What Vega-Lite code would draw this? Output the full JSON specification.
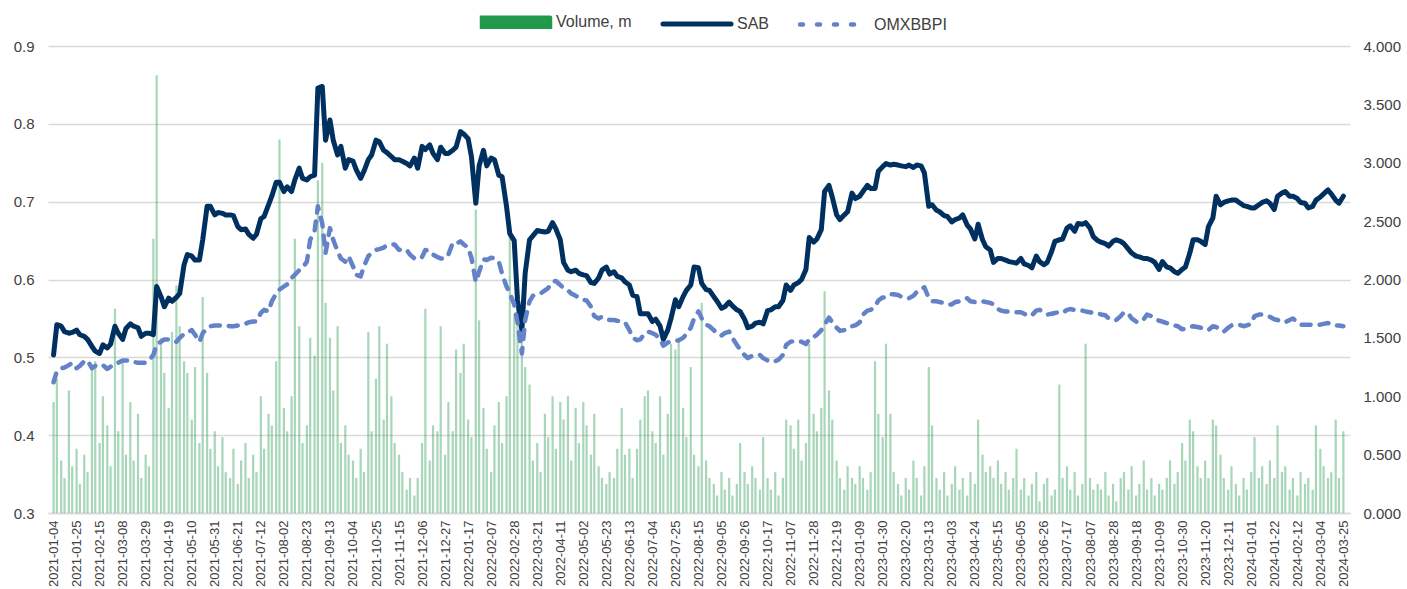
{
"$schema":"https://vega.github.io/schema/vega-lite/v6.json",
"width":1302,"height":467,
"autosize":{"type":"none"},
"padding":{"left":48,"top":46,"right":57,"bottom":76},
"background":"white",
"config":{"font":"Liberation Sans","view":{"stroke":null},"axis":{"labelFont":"Liberation Sans","labelColor":"#404040","labelFontSize":15,"title":null}},
"data":{"values":[
{"date":"2021-01-04","SAB":0.503,"OMXBBPI":0.468,"Volume":0.95},
{"date":"2021-01-07","SAB":0.542,"OMXBBPI":0.482,"Volume":1.15},
{"date":"2021-01-11","SAB":0.540,"OMXBBPI":0.486,"Volume":0.45},
{"date":"2021-01-14","SAB":0.533,"OMXBBPI":0.487,"Volume":0.30},
{"date":"2021-01-18","SAB":0.531,"OMXBBPI":0.490,"Volume":1.05},
{"date":"2021-01-21","SAB":0.532,"OMXBBPI":0.493,"Volume":0.40},
{"date":"2021-01-25","SAB":0.535,"OMXBBPI":0.486,"Volume":0.55},
{"date":"2021-01-28","SAB":0.529,"OMXBBPI":0.489,"Volume":0.25},
{"date":"2021-02-01","SAB":0.527,"OMXBBPI":0.495,"Volume":0.50},
{"date":"2021-02-04","SAB":0.523,"OMXBBPI":0.496,"Volume":0.35},
{"date":"2021-02-08","SAB":0.514,"OMXBBPI":0.486,"Volume":1.25},
{"date":"2021-02-11","SAB":0.508,"OMXBBPI":0.489,"Volume":1.30},
{"date":"2021-02-15","SAB":0.505,"OMXBBPI":0.491,"Volume":0.60},
{"date":"2021-02-18","SAB":0.516,"OMXBBPI":0.490,"Volume":1.00},
{"date":"2021-02-22","SAB":0.512,"OMXBBPI":0.485,"Volume":0.75},
{"date":"2021-02-25","SAB":0.517,"OMXBBPI":0.488,"Volume":0.40},
{"date":"2021-03-01","SAB":0.540,"OMXBBPI":0.492,"Volume":1.75},
{"date":"2021-03-04","SAB":0.531,"OMXBBPI":0.493,"Volume":0.70},
{"date":"2021-03-08","SAB":0.523,"OMXBBPI":0.496,"Volume":1.30},
{"date":"2021-03-11","SAB":0.537,"OMXBBPI":0.496,"Volume":0.50},
{"date":"2021-03-15","SAB":0.543,"OMXBBPI":0.496,"Volume":0.95},
{"date":"2021-03-18","SAB":0.540,"OMXBBPI":0.494,"Volume":0.45},
{"date":"2021-03-22","SAB":0.538,"OMXBBPI":0.493,"Volume":0.85},
{"date":"2021-03-25","SAB":0.527,"OMXBBPI":0.493,"Volume":0.30},
{"date":"2021-03-29","SAB":0.531,"OMXBBPI":0.493,"Volume":0.50},
{"date":"2021-04-01","SAB":0.531,"OMXBBPI":0.496,"Volume":0.40},
{"date":"2021-04-05","SAB":0.529,"OMXBBPI":0.503,"Volume":2.35},
{"date":"2021-04-08","SAB":0.591,"OMXBBPI":0.517,"Volume":3.75},
{"date":"2021-04-12","SAB":0.578,"OMXBBPI":0.520,"Volume":1.50},
{"date":"2021-04-15","SAB":0.565,"OMXBBPI":0.523,"Volume":1.20},
{"date":"2021-04-19","SAB":0.576,"OMXBBPI":0.523,"Volume":0.90},
{"date":"2021-04-22","SAB":0.572,"OMXBBPI":0.523,"Volume":1.55},
{"date":"2021-04-26","SAB":0.577,"OMXBBPI":0.520,"Volume":1.95},
{"date":"2021-04-29","SAB":0.582,"OMXBBPI":0.525,"Volume":1.60},
{"date":"2021-05-03","SAB":0.619,"OMXBBPI":0.530,"Volume":1.30},
{"date":"2021-05-06","SAB":0.632,"OMXBBPI":0.532,"Volume":1.20},
{"date":"2021-05-10","SAB":0.630,"OMXBBPI":0.535,"Volume":0.80},
{"date":"2021-05-13","SAB":0.625,"OMXBBPI":0.529,"Volume":1.25},
{"date":"2021-05-17","SAB":0.625,"OMXBBPI":0.520,"Volume":0.60},
{"date":"2021-05-20","SAB":0.651,"OMXBBPI":0.531,"Volume":1.85},
{"date":"2021-05-24","SAB":0.694,"OMXBBPI":0.538,"Volume":1.20},
{"date":"2021-05-27","SAB":0.694,"OMXBBPI":0.540,"Volume":0.55},
{"date":"2021-05-31","SAB":0.683,"OMXBBPI":0.541,"Volume":0.70},
{"date":"2021-06-03","SAB":0.686,"OMXBBPI":0.541,"Volume":0.40},
{"date":"2021-06-07","SAB":0.685,"OMXBBPI":0.541,"Volume":0.65},
{"date":"2021-06-10","SAB":0.683,"OMXBBPI":0.541,"Volume":0.35},
{"date":"2021-06-14","SAB":0.683,"OMXBBPI":0.540,"Volume":0.30},
{"date":"2021-06-17","SAB":0.682,"OMXBBPI":0.540,"Volume":0.55},
{"date":"2021-06-21","SAB":0.668,"OMXBBPI":0.541,"Volume":0.25},
{"date":"2021-06-24","SAB":0.664,"OMXBBPI":0.542,"Volume":0.45},
{"date":"2021-06-28","SAB":0.665,"OMXBBPI":0.543,"Volume":0.60},
{"date":"2021-07-01","SAB":0.658,"OMXBBPI":0.545,"Volume":0.30},
{"date":"2021-07-05","SAB":0.653,"OMXBBPI":0.546,"Volume":0.50},
{"date":"2021-07-08","SAB":0.658,"OMXBBPI":0.546,"Volume":0.35},
{"date":"2021-07-12","SAB":0.678,"OMXBBPI":0.557,"Volume":1.00},
{"date":"2021-07-15","SAB":0.681,"OMXBBPI":0.561,"Volume":0.55},
{"date":"2021-07-19","SAB":0.696,"OMXBBPI":0.559,"Volume":0.85},
{"date":"2021-07-22","SAB":0.707,"OMXBBPI":0.572,"Volume":0.75},
{"date":"2021-07-26","SAB":0.725,"OMXBBPI":0.582,"Volume":1.30},
{"date":"2021-07-29","SAB":0.725,"OMXBBPI":0.587,"Volume":3.20},
{"date":"2021-08-02","SAB":0.713,"OMXBBPI":0.591,"Volume":0.90},
{"date":"2021-08-05","SAB":0.719,"OMXBBPI":0.594,"Volume":0.70},
{"date":"2021-08-09","SAB":0.713,"OMXBBPI":0.602,"Volume":1.00},
{"date":"2021-08-12","SAB":0.728,"OMXBBPI":0.606,"Volume":2.35},
{"date":"2021-08-16","SAB":0.743,"OMXBBPI":0.612,"Volume":1.60},
{"date":"2021-08-19","SAB":0.730,"OMXBBPI":0.615,"Volume":0.60},
{"date":"2021-08-23","SAB":0.728,"OMXBBPI":0.623,"Volume":0.75},
{"date":"2021-08-26","SAB":0.732,"OMXBBPI":0.651,"Volume":1.50},
{"date":"2021-08-30","SAB":0.734,"OMXBBPI":0.662,"Volume":1.35},
{"date":"2021-09-02","SAB":0.846,"OMXBBPI":0.694,"Volume":2.85},
{"date":"2021-09-06","SAB":0.848,"OMXBBPI":0.672,"Volume":3.00},
{"date":"2021-09-09","SAB":0.779,"OMXBBPI":0.634,"Volume":1.80},
{"date":"2021-09-13","SAB":0.805,"OMXBBPI":0.666,"Volume":1.50},
{"date":"2021-09-16","SAB":0.779,"OMXBBPI":0.651,"Volume":1.05},
{"date":"2021-09-20","SAB":0.760,"OMXBBPI":0.636,"Volume":1.60},
{"date":"2021-09-23","SAB":0.771,"OMXBBPI":0.627,"Volume":0.60},
{"date":"2021-09-27","SAB":0.743,"OMXBBPI":0.623,"Volume":0.75},
{"date":"2021-09-30","SAB":0.754,"OMXBBPI":0.630,"Volume":0.50},
{"date":"2021-10-04","SAB":0.752,"OMXBBPI":0.617,"Volume":0.45},
{"date":"2021-10-07","SAB":0.741,"OMXBBPI":0.606,"Volume":0.30},
{"date":"2021-10-11","SAB":0.730,"OMXBBPI":0.604,"Volume":0.55},
{"date":"2021-10-14","SAB":0.739,"OMXBBPI":0.617,"Volume":0.35},
{"date":"2021-10-18","SAB":0.754,"OMXBBPI":0.630,"Volume":1.55},
{"date":"2021-10-21","SAB":0.760,"OMXBBPI":0.634,"Volume":0.70},
{"date":"2021-10-25","SAB":0.779,"OMXBBPI":0.638,"Volume":1.15},
{"date":"2021-10-28","SAB":0.777,"OMXBBPI":0.639,"Volume":1.60},
{"date":"2021-11-01","SAB":0.766,"OMXBBPI":0.641,"Volume":0.80},
{"date":"2021-11-04","SAB":0.763,"OMXBBPI":0.644,"Volume":1.45},
{"date":"2021-11-08","SAB":0.758,"OMXBBPI":0.645,"Volume":1.00},
{"date":"2021-11-11","SAB":0.754,"OMXBBPI":0.645,"Volume":0.60},
{"date":"2021-11-15","SAB":0.754,"OMXBBPI":0.638,"Volume":0.50},
{"date":"2021-11-18","SAB":0.752,"OMXBBPI":0.639,"Volume":0.35},
{"date":"2021-11-22","SAB":0.749,"OMXBBPI":0.638,"Volume":0.20},
{"date":"2021-11-25","SAB":0.746,"OMXBBPI":0.632,"Volume":0.30},
{"date":"2021-11-29","SAB":0.756,"OMXBBPI":0.627,"Volume":0.15},
{"date":"2021-12-02","SAB":0.743,"OMXBBPI":0.626,"Volume":0.30},
{"date":"2021-12-06","SAB":0.771,"OMXBBPI":0.629,"Volume":0.60},
{"date":"2021-12-09","SAB":0.767,"OMXBBPI":0.638,"Volume":1.75},
{"date":"2021-12-13","SAB":0.773,"OMXBBPI":0.637,"Volume":0.45},
{"date":"2021-12-16","SAB":0.762,"OMXBBPI":0.632,"Volume":0.75},
{"date":"2021-12-20","SAB":0.754,"OMXBBPI":0.629,"Volume":0.70},
{"date":"2021-12-23","SAB":0.770,"OMXBBPI":0.627,"Volume":1.60},
{"date":"2021-12-27","SAB":0.762,"OMXBBPI":0.627,"Volume":0.50},
{"date":"2021-12-30","SAB":0.762,"OMXBBPI":0.632,"Volume":0.95},
{"date":"2022-01-03","SAB":0.766,"OMXBBPI":0.647,"Volume":0.70},
{"date":"2022-01-06","SAB":0.770,"OMXBBPI":0.646,"Volume":1.40},
{"date":"2022-01-10","SAB":0.790,"OMXBBPI":0.649,"Volume":1.20},
{"date":"2022-01-13","SAB":0.787,"OMXBBPI":0.645,"Volume":1.45},
{"date":"2022-01-17","SAB":0.781,"OMXBBPI":0.641,"Volume":0.80},
{"date":"2022-01-20","SAB":0.758,"OMXBBPI":0.628,"Volume":0.65},
{"date":"2022-01-24","SAB":0.698,"OMXBBPI":0.597,"Volume":2.60},
{"date":"2022-01-27","SAB":0.746,"OMXBBPI":0.610,"Volume":1.65},
{"date":"2022-01-31","SAB":0.766,"OMXBBPI":0.626,"Volume":0.90},
{"date":"2022-02-03","SAB":0.746,"OMXBBPI":0.625,"Volume":0.55},
{"date":"2022-02-07","SAB":0.756,"OMXBBPI":0.628,"Volume":0.35},
{"date":"2022-02-10","SAB":0.754,"OMXBBPI":0.627,"Volume":0.75},
{"date":"2022-02-14","SAB":0.734,"OMXBBPI":0.623,"Volume":0.95},
{"date":"2022-02-17","SAB":0.732,"OMXBBPI":0.607,"Volume":0.60},
{"date":"2022-02-21","SAB":0.694,"OMXBBPI":0.591,"Volume":1.00},
{"date":"2022-02-24","SAB":0.659,"OMXBBPI":0.582,"Volume":2.45},
{"date":"2022-02-28","SAB":0.650,"OMXBBPI":0.568,"Volume":1.70},
{"date":"2022-03-03","SAB":0.574,"OMXBBPI":0.545,"Volume":1.80},
{"date":"2022-03-07","SAB":0.535,"OMXBBPI":0.505,"Volume":1.50},
{"date":"2022-03-10","SAB":0.608,"OMXBBPI":0.548,"Volume":1.25},
{"date":"2022-03-14","SAB":0.651,"OMXBBPI":0.572,"Volume":1.10},
{"date":"2022-03-17","SAB":0.656,"OMXBBPI":0.579,"Volume":0.45},
{"date":"2022-03-21","SAB":0.663,"OMXBBPI":0.581,"Volume":0.60},
{"date":"2022-03-24","SAB":0.662,"OMXBBPI":0.582,"Volume":0.35},
{"date":"2022-03-28","SAB":0.661,"OMXBBPI":0.586,"Volume":0.85},
{"date":"2022-03-31","SAB":0.662,"OMXBBPI":0.589,"Volume":0.65},
{"date":"2022-04-04","SAB":0.673,"OMXBBPI":0.597,"Volume":1.00},
{"date":"2022-04-07","SAB":0.665,"OMXBBPI":0.598,"Volume":0.55},
{"date":"2022-04-11","SAB":0.651,"OMXBBPI":0.593,"Volume":0.95},
{"date":"2022-04-14","SAB":0.622,"OMXBBPI":0.589,"Volume":0.80},
{"date":"2022-04-18","SAB":0.612,"OMXBBPI":0.586,"Volume":1.00},
{"date":"2022-04-21","SAB":0.610,"OMXBBPI":0.582,"Volume":0.45},
{"date":"2022-04-25","SAB":0.612,"OMXBBPI":0.579,"Volume":0.90},
{"date":"2022-04-28","SAB":0.608,"OMXBBPI":0.577,"Volume":0.60},
{"date":"2022-05-02","SAB":0.606,"OMXBBPI":0.574,"Volume":0.95},
{"date":"2022-05-05","SAB":0.605,"OMXBBPI":0.573,"Volume":0.75},
{"date":"2022-05-09","SAB":0.596,"OMXBBPI":0.565,"Volume":0.50},
{"date":"2022-05-12","SAB":0.595,"OMXBBPI":0.553,"Volume":0.85},
{"date":"2022-05-16","SAB":0.602,"OMXBBPI":0.550,"Volume":0.40},
{"date":"2022-05-19","SAB":0.612,"OMXBBPI":0.552,"Volume":0.30},
{"date":"2022-05-23","SAB":0.616,"OMXBBPI":0.549,"Volume":0.25},
{"date":"2022-05-26","SAB":0.607,"OMXBBPI":0.548,"Volume":0.35},
{"date":"2022-05-30","SAB":0.610,"OMXBBPI":0.548,"Volume":0.30},
{"date":"2022-06-02","SAB":0.604,"OMXBBPI":0.547,"Volume":0.55},
{"date":"2022-06-06","SAB":0.602,"OMXBBPI":0.546,"Volume":0.90},
{"date":"2022-06-09","SAB":0.597,"OMXBBPI":0.545,"Volume":0.50},
{"date":"2022-06-13","SAB":0.593,"OMXBBPI":0.535,"Volume":0.55},
{"date":"2022-06-16","SAB":0.580,"OMXBBPI":0.525,"Volume":0.30},
{"date":"2022-06-20","SAB":0.578,"OMXBBPI":0.522,"Volume":0.55},
{"date":"2022-06-23","SAB":0.556,"OMXBBPI":0.523,"Volume":0.80},
{"date":"2022-06-27","SAB":0.556,"OMXBBPI":0.531,"Volume":1.00},
{"date":"2022-06-30","SAB":0.556,"OMXBBPI":0.533,"Volume":1.05},
{"date":"2022-07-04","SAB":0.546,"OMXBBPI":0.531,"Volume":0.70},
{"date":"2022-07-07","SAB":0.549,"OMXBBPI":0.529,"Volume":0.60},
{"date":"2022-07-11","SAB":0.540,"OMXBBPI":0.523,"Volume":1.00},
{"date":"2022-07-14","SAB":0.523,"OMXBBPI":0.515,"Volume":0.50},
{"date":"2022-07-18","SAB":0.535,"OMXBBPI":0.519,"Volume":0.85},
{"date":"2022-07-21","SAB":0.550,"OMXBBPI":0.520,"Volume":1.45},
{"date":"2022-07-25","SAB":0.574,"OMXBBPI":0.521,"Volume":1.40},
{"date":"2022-07-28","SAB":0.565,"OMXBBPI":0.522,"Volume":1.50},
{"date":"2022-08-01","SAB":0.578,"OMXBBPI":0.525,"Volume":0.90},
{"date":"2022-08-04","SAB":0.586,"OMXBBPI":0.530,"Volume":0.65},
{"date":"2022-08-08","SAB":0.593,"OMXBBPI":0.538,"Volume":1.25},
{"date":"2022-08-11","SAB":0.616,"OMXBBPI":0.550,"Volume":0.50},
{"date":"2022-08-15","SAB":0.615,"OMXBBPI":0.559,"Volume":0.40},
{"date":"2022-08-18","SAB":0.595,"OMXBBPI":0.550,"Volume":1.80},
{"date":"2022-08-22","SAB":0.587,"OMXBBPI":0.542,"Volume":0.45},
{"date":"2022-08-25","SAB":0.586,"OMXBBPI":0.540,"Volume":0.30},
{"date":"2022-08-29","SAB":0.578,"OMXBBPI":0.535,"Volume":0.25},
{"date":"2022-09-01","SAB":0.572,"OMXBBPI":0.530,"Volume":0.15},
{"date":"2022-09-05","SAB":0.563,"OMXBBPI":0.528,"Volume":0.35},
{"date":"2022-09-08","SAB":0.565,"OMXBBPI":0.531,"Volume":0.20},
{"date":"2022-09-12","SAB":0.571,"OMXBBPI":0.533,"Volume":0.30},
{"date":"2022-09-15","SAB":0.566,"OMXBBPI":0.525,"Volume":0.15},
{"date":"2022-09-19","SAB":0.561,"OMXBBPI":0.516,"Volume":0.25},
{"date":"2022-09-22","SAB":0.559,"OMXBBPI":0.510,"Volume":0.60},
{"date":"2022-09-26","SAB":0.549,"OMXBBPI":0.503,"Volume":0.35},
{"date":"2022-09-29","SAB":0.538,"OMXBBPI":0.499,"Volume":0.25},
{"date":"2022-10-03","SAB":0.540,"OMXBBPI":0.502,"Volume":0.40},
{"date":"2022-10-06","SAB":0.544,"OMXBBPI":0.503,"Volume":0.30},
{"date":"2022-10-10","SAB":0.545,"OMXBBPI":0.503,"Volume":0.20},
{"date":"2022-10-13","SAB":0.543,"OMXBBPI":0.499,"Volume":0.65},
{"date":"2022-10-17","SAB":0.560,"OMXBBPI":0.496,"Volume":0.30},
{"date":"2022-10-20","SAB":0.561,"OMXBBPI":0.494,"Volume":0.20},
{"date":"2022-10-24","SAB":0.565,"OMXBBPI":0.495,"Volume":0.35},
{"date":"2022-10-27","SAB":0.565,"OMXBBPI":0.497,"Volume":0.15},
{"date":"2022-10-31","SAB":0.573,"OMXBBPI":0.503,"Volume":0.30},
{"date":"2022-11-03","SAB":0.593,"OMXBBPI":0.516,"Volume":0.80},
{"date":"2022-11-07","SAB":0.586,"OMXBBPI":0.520,"Volume":0.75},
{"date":"2022-11-10","SAB":0.593,"OMXBBPI":0.521,"Volume":0.55},
{"date":"2022-11-14","SAB":0.596,"OMXBBPI":0.521,"Volume":0.80},
{"date":"2022-11-17","SAB":0.600,"OMXBBPI":0.520,"Volume":0.45},
{"date":"2022-11-21","SAB":0.613,"OMXBBPI":0.517,"Volume":0.60},
{"date":"2022-11-24","SAB":0.654,"OMXBBPI":0.523,"Volume":1.45},
{"date":"2022-11-28","SAB":0.648,"OMXBBPI":0.526,"Volume":0.85},
{"date":"2022-12-01","SAB":0.652,"OMXBBPI":0.529,"Volume":0.70},
{"date":"2022-12-05","SAB":0.664,"OMXBBPI":0.535,"Volume":0.90},
{"date":"2022-12-08","SAB":0.713,"OMXBBPI":0.542,"Volume":1.90},
{"date":"2022-12-12","SAB":0.721,"OMXBBPI":0.551,"Volume":1.05},
{"date":"2022-12-15","SAB":0.706,"OMXBBPI":0.545,"Volume":0.80},
{"date":"2022-12-19","SAB":0.683,"OMXBBPI":0.538,"Volume":0.45},
{"date":"2022-12-22","SAB":0.677,"OMXBBPI":0.534,"Volume":0.30},
{"date":"2022-12-26","SAB":0.683,"OMXBBPI":0.535,"Volume":0.20},
{"date":"2022-12-29","SAB":0.687,"OMXBBPI":0.538,"Volume":0.40},
{"date":"2023-01-02","SAB":0.711,"OMXBBPI":0.540,"Volume":0.30},
{"date":"2023-01-05","SAB":0.704,"OMXBBPI":0.541,"Volume":0.25},
{"date":"2023-01-09","SAB":0.707,"OMXBBPI":0.545,"Volume":0.40},
{"date":"2023-01-12","SAB":0.713,"OMXBBPI":0.555,"Volume":0.30},
{"date":"2023-01-16","SAB":0.721,"OMXBBPI":0.560,"Volume":0.20},
{"date":"2023-01-19","SAB":0.717,"OMXBBPI":0.561,"Volume":0.35},
{"date":"2023-01-23","SAB":0.717,"OMXBBPI":0.565,"Volume":1.30},
{"date":"2023-01-26","SAB":0.739,"OMXBBPI":0.573,"Volume":0.85},
{"date":"2023-01-30","SAB":0.745,"OMXBBPI":0.577,"Volume":0.65},
{"date":"2023-02-02","SAB":0.749,"OMXBBPI":0.577,"Volume":1.45},
{"date":"2023-02-06","SAB":0.747,"OMXBBPI":0.581,"Volume":0.85},
{"date":"2023-02-09","SAB":0.748,"OMXBBPI":0.581,"Volume":0.35},
{"date":"2023-02-13","SAB":0.747,"OMXBBPI":0.580,"Volume":0.25},
{"date":"2023-02-16","SAB":0.746,"OMXBBPI":0.578,"Volume":0.15},
{"date":"2023-02-20","SAB":0.745,"OMXBBPI":0.577,"Volume":0.30},
{"date":"2023-02-23","SAB":0.747,"OMXBBPI":0.576,"Volume":0.20},
{"date":"2023-02-27","SAB":0.744,"OMXBBPI":0.579,"Volume":0.45},
{"date":"2023-03-02","SAB":0.747,"OMXBBPI":0.584,"Volume":0.30},
{"date":"2023-03-06","SAB":0.746,"OMXBBPI":0.588,"Volume":0.15},
{"date":"2023-03-09","SAB":0.737,"OMXBBPI":0.590,"Volume":0.40},
{"date":"2023-03-13","SAB":0.694,"OMXBBPI":0.576,"Volume":1.25},
{"date":"2023-03-16","SAB":0.696,"OMXBBPI":0.572,"Volume":0.75},
{"date":"2023-03-20","SAB":0.689,"OMXBBPI":0.572,"Volume":0.30},
{"date":"2023-03-23","SAB":0.687,"OMXBBPI":0.571,"Volume":0.20},
{"date":"2023-03-27","SAB":0.682,"OMXBBPI":0.570,"Volume":0.35},
{"date":"2023-03-30","SAB":0.681,"OMXBBPI":0.568,"Volume":0.15},
{"date":"2023-04-03","SAB":0.674,"OMXBBPI":0.568,"Volume":0.25},
{"date":"2023-04-06","SAB":0.677,"OMXBBPI":0.571,"Volume":0.40},
{"date":"2023-04-10","SAB":0.679,"OMXBBPI":0.572,"Volume":0.20},
{"date":"2023-04-13","SAB":0.683,"OMXBBPI":0.574,"Volume":0.30},
{"date":"2023-04-17","SAB":0.670,"OMXBBPI":0.576,"Volume":0.15},
{"date":"2023-04-20","SAB":0.665,"OMXBBPI":0.572,"Volume":0.35},
{"date":"2023-04-24","SAB":0.652,"OMXBBPI":0.571,"Volume":0.25},
{"date":"2023-04-27","SAB":0.671,"OMXBBPI":0.572,"Volume":0.80},
{"date":"2023-05-01","SAB":0.651,"OMXBBPI":0.572,"Volume":0.50},
{"date":"2023-05-04","SAB":0.642,"OMXBBPI":0.571,"Volume":0.35},
{"date":"2023-05-08","SAB":0.638,"OMXBBPI":0.570,"Volume":0.40},
{"date":"2023-05-11","SAB":0.622,"OMXBBPI":0.568,"Volume":0.30},
{"date":"2023-05-15","SAB":0.627,"OMXBBPI":0.562,"Volume":0.45},
{"date":"2023-05-18","SAB":0.627,"OMXBBPI":0.560,"Volume":0.25},
{"date":"2023-05-22","SAB":0.625,"OMXBBPI":0.559,"Volume":0.35},
{"date":"2023-05-25","SAB":0.623,"OMXBBPI":0.559,"Volume":0.20},
{"date":"2023-05-29","SAB":0.622,"OMXBBPI":0.558,"Volume":0.30},
{"date":"2023-06-01","SAB":0.621,"OMXBBPI":0.558,"Volume":0.55},
{"date":"2023-06-05","SAB":0.627,"OMXBBPI":0.558,"Volume":0.20},
{"date":"2023-06-08","SAB":0.620,"OMXBBPI":0.556,"Volume":0.30},
{"date":"2023-06-12","SAB":0.618,"OMXBBPI":0.553,"Volume":0.15},
{"date":"2023-06-15","SAB":0.615,"OMXBBPI":0.554,"Volume":0.25},
{"date":"2023-06-19","SAB":0.630,"OMXBBPI":0.560,"Volume":0.35},
{"date":"2023-06-22","SAB":0.623,"OMXBBPI":0.561,"Volume":0.10},
{"date":"2023-06-26","SAB":0.619,"OMXBBPI":0.558,"Volume":0.25},
{"date":"2023-06-29","SAB":0.622,"OMXBBPI":0.555,"Volume":0.30},
{"date":"2023-07-03","SAB":0.636,"OMXBBPI":0.556,"Volume":0.15},
{"date":"2023-07-06","SAB":0.649,"OMXBBPI":0.557,"Volume":0.20},
{"date":"2023-07-10","SAB":0.651,"OMXBBPI":0.558,"Volume":1.10},
{"date":"2023-07-13","SAB":0.652,"OMXBBPI":0.557,"Volume":0.30},
{"date":"2023-07-17","SAB":0.666,"OMXBBPI":0.561,"Volume":0.40},
{"date":"2023-07-20","SAB":0.669,"OMXBBPI":0.562,"Volume":0.20},
{"date":"2023-07-24","SAB":0.662,"OMXBBPI":0.561,"Volume":0.35},
{"date":"2023-07-27","SAB":0.672,"OMXBBPI":0.560,"Volume":0.15},
{"date":"2023-07-31","SAB":0.671,"OMXBBPI":0.560,"Volume":0.25},
{"date":"2023-08-03","SAB":0.673,"OMXBBPI":0.559,"Volume":1.45},
{"date":"2023-08-07","SAB":0.666,"OMXBBPI":0.558,"Volume":0.30},
{"date":"2023-08-10","SAB":0.655,"OMXBBPI":0.557,"Volume":0.20},
{"date":"2023-08-14","SAB":0.650,"OMXBBPI":0.557,"Volume":0.25},
{"date":"2023-08-17","SAB":0.648,"OMXBBPI":0.555,"Volume":0.20},
{"date":"2023-08-21","SAB":0.646,"OMXBBPI":0.554,"Volume":0.35},
{"date":"2023-08-24","SAB":0.643,"OMXBBPI":0.550,"Volume":0.15},
{"date":"2023-08-28","SAB":0.649,"OMXBBPI":0.549,"Volume":0.25},
{"date":"2023-08-31","SAB":0.651,"OMXBBPI":0.548,"Volume":0.10},
{"date":"2023-09-04","SAB":0.649,"OMXBBPI":0.553,"Volume":0.30},
{"date":"2023-09-07","SAB":0.646,"OMXBBPI":0.558,"Volume":0.35},
{"date":"2023-09-11","SAB":0.639,"OMXBBPI":0.556,"Volume":0.20},
{"date":"2023-09-14","SAB":0.634,"OMXBBPI":0.550,"Volume":0.40},
{"date":"2023-09-18","SAB":0.630,"OMXBBPI":0.546,"Volume":0.15},
{"date":"2023-09-21","SAB":0.629,"OMXBBPI":0.545,"Volume":0.25},
{"date":"2023-09-25","SAB":0.627,"OMXBBPI":0.549,"Volume":0.45},
{"date":"2023-09-28","SAB":0.627,"OMXBBPI":0.555,"Volume":0.20},
{"date":"2023-10-02","SAB":0.625,"OMXBBPI":0.553,"Volume":0.30},
{"date":"2023-10-05","SAB":0.622,"OMXBBPI":0.550,"Volume":0.15},
{"date":"2023-10-09","SAB":0.613,"OMXBBPI":0.547,"Volume":0.25},
{"date":"2023-10-12","SAB":0.623,"OMXBBPI":0.546,"Volume":0.20},
{"date":"2023-10-16","SAB":0.616,"OMXBBPI":0.544,"Volume":0.30},
{"date":"2023-10-19","SAB":0.615,"OMXBBPI":0.543,"Volume":0.45},
{"date":"2023-10-23","SAB":0.610,"OMXBBPI":0.541,"Volume":0.25},
{"date":"2023-10-26","SAB":0.608,"OMXBBPI":0.540,"Volume":0.35},
{"date":"2023-10-30","SAB":0.613,"OMXBBPI":0.536,"Volume":0.60},
{"date":"2023-11-02","SAB":0.616,"OMXBBPI":0.537,"Volume":0.45},
{"date":"2023-11-06","SAB":0.634,"OMXBBPI":0.539,"Volume":0.80},
{"date":"2023-11-09","SAB":0.651,"OMXBBPI":0.540,"Volume":0.70},
{"date":"2023-11-13","SAB":0.651,"OMXBBPI":0.539,"Volume":0.40},
{"date":"2023-11-16","SAB":0.649,"OMXBBPI":0.538,"Volume":0.30},
{"date":"2023-11-20","SAB":0.645,"OMXBBPI":0.537,"Volume":0.45},
{"date":"2023-11-23","SAB":0.668,"OMXBBPI":0.535,"Volume":0.30},
{"date":"2023-11-27","SAB":0.679,"OMXBBPI":0.540,"Volume":0.80},
{"date":"2023-11-30","SAB":0.707,"OMXBBPI":0.539,"Volume":0.75},
{"date":"2023-12-04","SAB":0.696,"OMXBBPI":0.535,"Volume":0.50},
{"date":"2023-12-07","SAB":0.699,"OMXBBPI":0.533,"Volume":0.30},
{"date":"2023-12-11","SAB":0.701,"OMXBBPI":0.538,"Volume":0.20},
{"date":"2023-12-14","SAB":0.702,"OMXBBPI":0.541,"Volume":0.40},
{"date":"2023-12-18","SAB":0.702,"OMXBBPI":0.541,"Volume":0.25},
{"date":"2023-12-21","SAB":0.699,"OMXBBPI":0.542,"Volume":0.15},
{"date":"2023-12-25","SAB":0.695,"OMXBBPI":0.540,"Volume":0.30},
{"date":"2023-12-28","SAB":0.694,"OMXBBPI":0.541,"Volume":0.20},
{"date":"2024-01-01","SAB":0.692,"OMXBBPI":0.543,"Volume":0.35},
{"date":"2024-01-04","SAB":0.692,"OMXBBPI":0.553,"Volume":0.65},
{"date":"2024-01-08","SAB":0.696,"OMXBBPI":0.555,"Volume":0.30},
{"date":"2024-01-11","SAB":0.699,"OMXBBPI":0.555,"Volume":0.40},
{"date":"2024-01-15","SAB":0.701,"OMXBBPI":0.554,"Volume":0.25},
{"date":"2024-01-18","SAB":0.698,"OMXBBPI":0.552,"Volume":0.45},
{"date":"2024-01-22","SAB":0.690,"OMXBBPI":0.549,"Volume":0.30},
{"date":"2024-01-25","SAB":0.707,"OMXBBPI":0.548,"Volume":0.75},
{"date":"2024-01-29","SAB":0.711,"OMXBBPI":0.546,"Volume":0.35},
{"date":"2024-02-01","SAB":0.713,"OMXBBPI":0.545,"Volume":0.40},
{"date":"2024-02-05","SAB":0.707,"OMXBBPI":0.548,"Volume":0.20},
{"date":"2024-02-08","SAB":0.707,"OMXBBPI":0.550,"Volume":0.30},
{"date":"2024-02-12","SAB":0.704,"OMXBBPI":0.545,"Volume":0.15},
{"date":"2024-02-15","SAB":0.699,"OMXBBPI":0.542,"Volume":0.35},
{"date":"2024-02-19","SAB":0.698,"OMXBBPI":0.542,"Volume":0.25},
{"date":"2024-02-22","SAB":0.692,"OMXBBPI":0.542,"Volume":0.30},
{"date":"2024-02-26","SAB":0.694,"OMXBBPI":0.542,"Volume":0.20},
{"date":"2024-02-29","SAB":0.702,"OMXBBPI":0.542,"Volume":0.75},
{"date":"2024-03-04","SAB":0.706,"OMXBBPI":0.542,"Volume":0.55},
{"date":"2024-03-07","SAB":0.710,"OMXBBPI":0.543,"Volume":0.40},
{"date":"2024-03-11","SAB":0.715,"OMXBBPI":0.544,"Volume":0.30},
{"date":"2024-03-14","SAB":0.710,"OMXBBPI":0.543,"Volume":0.35},
{"date":"2024-03-18","SAB":0.702,"OMXBBPI":0.541,"Volume":0.80},
{"date":"2024-03-21","SAB":0.698,"OMXBBPI":0.541,"Volume":0.30},
{"date":"2024-03-25","SAB":0.707,"OMXBBPI":0.540,"Volume":0.70}
]},
"encoding":{"x":{"field":"date","type":"temporal",
 "scale":{"type":"utc","domain":[1609675200000,1711454400000]},
 "axis":{"values":[1609718400000,1611532800000,1613347200000,1615161600000,1616976000000,1618790400000,1620604800000,1622419200000,1624233600000,1626048000000,1627862400000,1629676800000,1631491200000,1633305600000,1635120000000,1636934400000,1638748800000,1640563200000,1642377600000,1644192000000,1646006400000,1647820800000,1649635200000,1651449600000,1653264000000,1655078400000,1656892800000,1658707200000,1660521600000,1662336000000,1664150400000,1665964800000,1667779200000,1669593600000,1671408000000,1673222400000,1675036800000,1676851200000,1678665600000,1680480000000,1682294400000,1684108800000,1685923200000,1687737600000,1689552000000,1691366400000,1693180800000,1694995200000,1696809600000,1698624000000,1700438400000,1702252800000,1704067200000,1705881600000,1707696000000,1709510400000,1711324800000],
  "format":"%Y-%m-%d","labelAngle":-90,"labelFontSize":13,"labelPadding":7,"ticks":false,"grid":false,"domainColor":"#d9d9d9","domainWidth":1.5,"labelOverlap":false,"labelFlush":false,"title":null}}},
"layer":[
 {"mark":{"type":"bar","width":2.2,"color":"#2e9e55","opacity":0.42},
  "encoding":{"y":{"field":"Volume","type":"quantitative","scale":{"domain":[0,4]},
   "axis":{"orient":"right","values":[0,0.5,1,1.5,2,2.5,3,3.5,4],"format":".3f","grid":false,"domain":false,"ticks":false,"labelPadding":13,"title":null}}}},
 {"layer":[
  {"mark":{"type":"line","strokeWidth":5,"strokeCap":"round","strokeJoin":"round"},
   "encoding":{"y":{"field":"SAB","type":"quantitative","scale":{"domain":[0.3,0.9]},
    "axis":{"orient":"left","values":[0.3,0.4,0.5,0.6,0.7,0.8,0.9],"format":".1f","grid":true,"gridColor":"#d9d9d9","gridWidth":1.3,"domain":false,"ticks":false,"labelPadding":14,"title":null}},
    "color":{"datum":"SAB","type":"nominal",
     "scale":{"domain":["Volume, m","SAB","OMXBBPI"],"range":["#21994a","#00305f","#6482c8"]},
     "legend":{"orient":"none","legendX":460,"legendY":-32,"direction":"horizontal","title":null,"padding":0,
      "labelFont":"Liberation Sans","labelFontSize":16,"labelColor":"#404040","labelOffset":32,"columnPadding":21,"labelLimit":0,
      "symbolSize":4624,"symbolStrokeWidth":5,
      "encode":{"symbols":{"update":{
        "shape":{"signal":"datum.value === 'Volume, m' ? 'M-1,-0.13H1V0.13H-1Z' : 'stroke'"},
        "fill":{"signal":"datum.value === 'Volume, m' ? '#21994a' : 'transparent'"},
        "stroke":{"signal":"datum.value === 'SAB' ? '#00305f' : (datum.value === 'OMXBBPI' ? '#6482c8' : 'transparent')"},
        "strokeWidth":{"signal":"datum.value === 'SAB' ? 5 : 4.5"},
        "strokeDash":{"signal":"datum.value === 'OMXBBPI' ? [3,14] : [1,0]"},
        "strokeCap":{"value":"round"},
        "opacity":{"value":1}}}}}}}},
  {"mark":{"type":"line","strokeWidth":4.5,"strokeDash":[9,9],"strokeCap":"round","strokeJoin":"round"},
   "encoding":{"y":{"field":"OMXBBPI","type":"quantitative"},
    "color":{"datum":"OMXBBPI","type":"nominal"}}}
 ]}
],
"resolve":{"scale":{"y":"independent"}}
}
